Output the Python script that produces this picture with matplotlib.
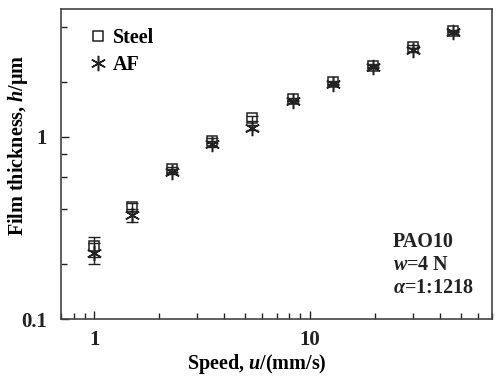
import numpy as np
import matplotlib
matplotlib.use("Agg")
import matplotlib.pyplot as plt
from matplotlib.ticker import LogLocator, FixedLocator, NullFormatter, FixedFormatter

# data
speed = [1.0, 1.5, 2.3, 3.5, 5.4, 8.3, 12.7, 19.6, 30.0, 46.0]
steel = [0.25, 0.41, 0.66, 0.95, 1.26, 1.60, 1.98, 2.45, 3.10, 3.78]
steel_err = [0.03, 0.02, 0.02, 0.03, 0.04, 0.03, 0.04, 0.04, 0.06, 0.06]
af = [0.23, 0.37, 0.64, 0.91, 1.12, 1.56, 1.95, 2.42, 2.98, 3.72]
af_err = [0.03, 0.03, 0.02, 0.03, 0.03, 0.03, 0.04, 0.04, 0.06, 0.06]

plt.rcParams["font.family"] = "Liberation Serif"
plt.rcParams["font.weight"] = "bold"
plt.rcParams["mathtext.fontset"] = "custom"
plt.rcParams["mathtext.rm"] = "Liberation Serif:bold"
plt.rcParams["mathtext.it"] = "Liberation Serif:italic:bold"
plt.rcParams["mathtext.bf"] = "Liberation Serif:bold"

fig = plt.figure(figsize=(5.03, 3.77), dpi=100)
ax = fig.add_axes([0.1213, 0.1538, 0.8577, 0.8222])

ink = "#222222"
fs = 14.5

# error bars first, markers on top
ax.errorbar(speed, steel, yerr=steel_err, fmt="none", ecolor=ink, elinewidth=1.0, capsize=4)
ax.errorbar(speed, af, yerr=af_err, fmt="none", ecolor=ink, elinewidth=1.0, capsize=4)
h_steel, = ax.plot(speed, steel, ls="none", marker="s", ms=7.5, mfc="none", mec=ink, mew=1.1, label="Steel")
h_af, = ax.plot(speed, af, ls="none", marker=(6, 2, 0), ms=11, mec=ink, mew=1.1, color=ink, label="AF")

ax.set_xscale("log")
ax.set_yscale("log")
ax.set_xlim(0.7, 70)
ax.set_ylim(0.1, 5)

ax.xaxis.set_major_locator(FixedLocator([1, 10]))
ax.xaxis.set_major_formatter(FixedFormatter(["1", "10"]))
ax.xaxis.set_minor_locator(LogLocator(base=10, subs=np.arange(2, 10)))
ax.xaxis.set_minor_formatter(NullFormatter())
ax.yaxis.set_major_locator(FixedLocator([0.1, 1]))
ax.yaxis.set_major_formatter(FixedFormatter(["0.1", "1"]))
ax.yaxis.set_minor_locator(FixedLocator([0.2, 0.4, 0.6, 0.8, 2, 4]))
ax.yaxis.set_minor_formatter(NullFormatter())

ax.tick_params(which="both", direction="in", colors=ink, labelsize=15, width=1.0)
ax.tick_params(which="major", length=6)
ax.tick_params(which="minor", length=4)
ax.tick_params(axis="x", which="major", pad=8)
ax.tick_params(axis="y", which="major", pad=10)
for s in ax.spines.values():
    s.set_color("#444444")
    s.set_linewidth(1.2)

ax.set_xlabel(r"Speed, $\mathit{u}$/(mm/s)", fontsize=fs, fontweight="bold")
ax.set_ylabel(r"Film thickness, $\mathit{h}$/$\mathrm{\mu}$m", fontsize=fs, fontweight="bold")
ax.xaxis.set_label_coords(0.455, -0.106)
ax.yaxis.set_label_coords(-0.072, 0.56)

ax.legend(handles=[h_steel, h_af], loc="upper left", bbox_to_anchor=(0.062, 0.938),
          frameon=False, fontsize=fs, handletextpad=0.25, borderaxespad=0, borderpad=0,
          labelspacing=0.35, handlelength=1.0)

ax.text(0.769, 0.232, "PAO10", transform=ax.transAxes, fontsize=fs, color=ink, va="baseline")
ax.text(0.769, 0.158, r"$\mathit{w}$=4 N", transform=ax.transAxes, fontsize=fs, color=ink, va="baseline")
ax.text(0.769, 0.084, r"$\mathit{\alpha}$=1:1218", transform=ax.transAxes, fontsize=fs, color=ink, va="baseline")

fig.savefig("out.png", dpi=100)
